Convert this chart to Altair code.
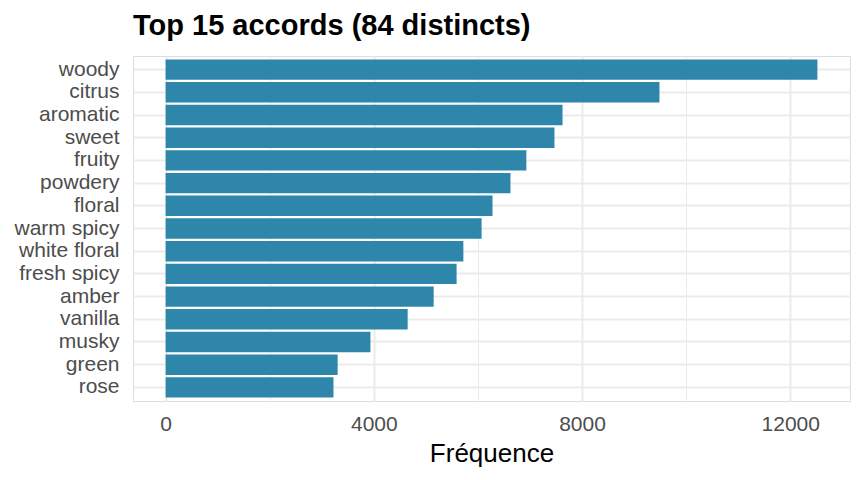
import altair as alt
import pandas as pd

accords = ["woody", "citrus", "aromatic", "sweet", "fruity", "powdery", "floral",
           "warm spicy", "white floral", "fresh spicy", "amber", "vanilla",
           "musky", "green", "rose"]
counts = [12521, 9487, 7625, 7470, 6930, 6625, 6280, 6070, 5720, 5590, 5150,
          4650, 3935, 3305, 3225]
x_ticks = [0, 2000, 4000, 6000, 8000, 10000, 12000]

df = pd.DataFrame({"accord": accords, "n": counts})
mx = max(counts)

FONT = "Liberation Sans"

chart = alt.Chart(df).mark_bar(color="#2E86AB").encode(
    x=alt.X("n:Q",
            scale=alt.Scale(domain=[-0.05 * mx, 1.05 * mx], nice=False, zero=False),
            axis=alt.Axis(values=x_ticks, format="d",
                          labelExpr="datum.value % 4000 === 0 ? datum.label : ''",
                          grid=True, gridColor="#EBEBEB",
                          gridWidth={"condition": {"test": "datum.value % 4000 === 0", "value": 2}, "value": 1},
                          domain=False, ticks=False,
                          labelFont=FONT, labelFontSize=21, labelColor="#4D4D4D",
                          labelPadding=12,
                          title="Fréquence", titleFont=FONT, titleFontSize=26,
                          titleFontWeight="normal", titleColor="#000000",
                          titlePadding=6)),
    y=alt.Y("accord:N", sort=accords, title=None,
            scale=alt.Scale(paddingInner=0.1, paddingOuter=0.15),
            axis=alt.Axis(grid=True, gridColor="#EBEBEB", gridWidth=2,
                          bandPosition=0.5, domain=False, ticks=False,
                          labelFont=FONT, labelFontSize=21, labelColor="#4D4D4D",
                          labelPadding=14)),
).properties(
    width=717, height=345,
    title=alt.TitleParams("Top 15 accords (84 distincts)", anchor="start",
                          frame="group",
                          font=FONT, fontSize=29, fontWeight="bold",
                          color="#000000", offset=15),
    autosize=alt.AutoSizeParams(type="none"),
    padding={"left": 125, "top": 48, "right": 6, "bottom": 71},
).configure_view(stroke=None).configure(background="#FFFFFF")

chart.save("out.html", embed_options={"renderer": "svg", "actions": False})
